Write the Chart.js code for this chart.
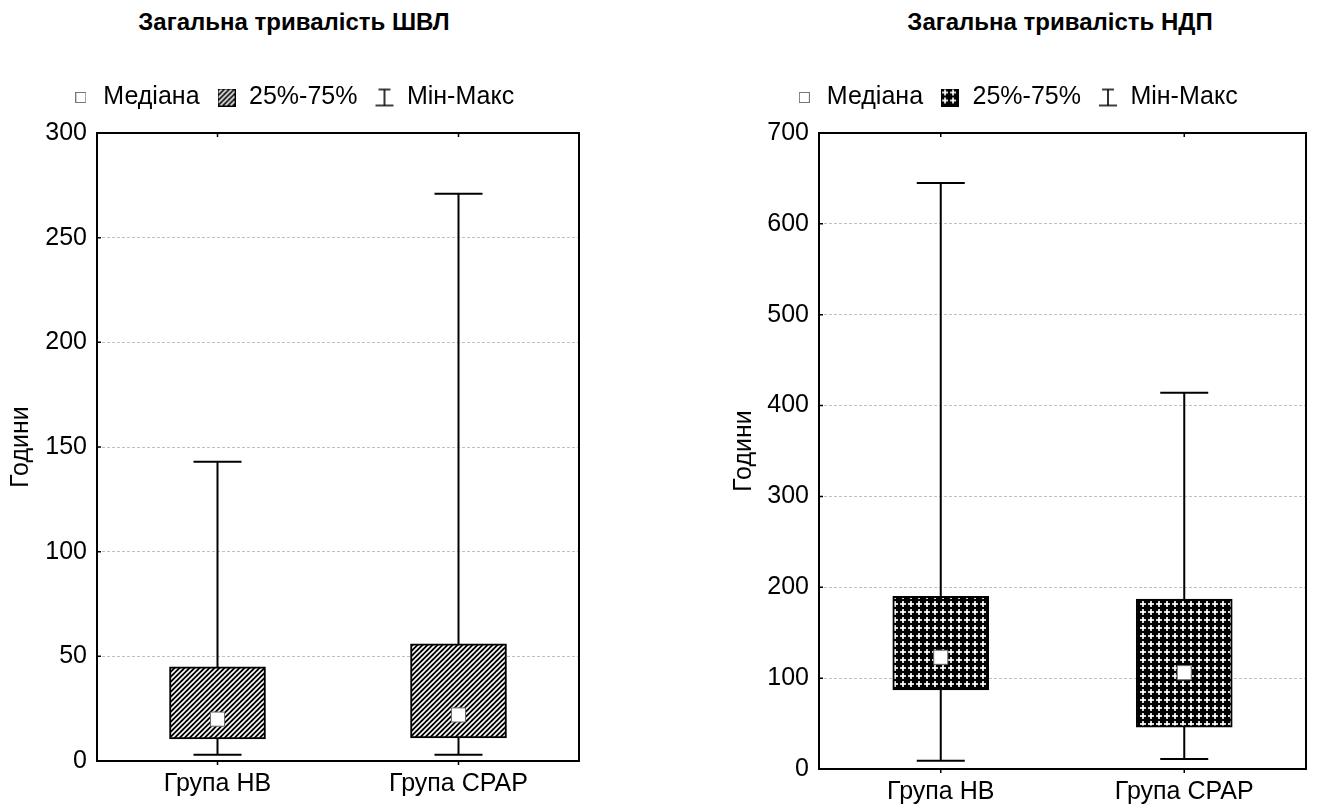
<!DOCTYPE html>
<html>
<head>
<meta charset="utf-8">
<script src="https://cdn.jsdelivr.net/npm/chart.js@4"></script>
<style>
  body { margin: 0; background: #fff; width: 1317px; height: 808px; position: relative; overflow: hidden;
         font-family: Arial, "Liberation Sans", sans-serif; }
  .title { position: absolute; top: 8px; font-weight: bold; font-size: 24px; line-height: 28px;
           transform: translateX(-50%); white-space: nowrap; color: #000; }
  #t1 { left: 294px; }
  #t2 { left: 1060px; }
  #c1 { position: absolute; left: 0; top: 0; }
  #c2 { position: absolute; left: 723px; top: 0; }
</style>
</head>
<body>
<div class="title" id="t1">Загальна тривалість ШВЛ</div>
<div class="title" id="t2">Загальна тривалість НДП</div>
<canvas id="c1" width="590" height="808"></canvas>
<canvas id="c2" width="594" height="808"></canvas>
<script>
const categories = ['Група НВ', 'Група CPAP'];
const legendTexts = ['Медіана', '25%-75%', 'Мін-Макс'];

// Загальна тривалість ШВЛ
const shvlMin = [3, 3];
const shvlQ1 = [10.5, 11];
const shvlMedian = [20, 22];
const shvlQ3 = [45, 56];
const shvlMax = [143, 271];
const shvlTicks = [0, 50, 100, 150, 200, 250, 300];

// Загальна тривалість НДП
const ndpMin = [9, 11];
const ndpQ1 = [87, 46];
const ndpMedian = [123, 106];
const ndpQ3 = [190, 187];
const ndpMax = [645, 414];
const ndpTicks = [0, 100, 200, 300, 400, 500, 600, 700];

Chart.defaults.font.family = 'Arial, "Liberation Sans", sans-serif';
Chart.defaults.color = '#000';

function tile(size, draw) {
    const c = document.createElement('canvas');
    c.width = size; c.height = size;
    draw(c.getContext('2d'), size);
    return c;
}

const stripeTile = tile(5, function (g, s) {
    g.fillStyle = '#000';
    g.fillRect(0, 0, s, s);
    g.strokeStyle = '#fff';
    g.lineWidth = 1.6;
    g.beginPath();
    g.moveTo(-1, s + 1); g.lineTo(s + 1, -1);
    g.moveTo(-1, 1); g.lineTo(1, -1);
    g.moveTo(s - 1, s + 1); g.lineTo(s + 1, s - 1);
    g.stroke();
});

const dotTile = tile(8, function (g, s) {
    g.fillStyle = '#000';
    g.fillRect(0, 0, s, s);
    g.fillStyle = '#d8d8d8';
    g.fillRect(3, 1, 2, 6);
    g.fillRect(1, 3, 6, 2);
    g.fillStyle = '#fff';
    g.fillRect(3, 3, 2, 2);
});

const tmp = document.createElement('canvas').getContext('2d');
const stripes = tmp.createPattern(stripeTile, 'repeat');
const dots = tmp.createPattern(dotTile, 'repeat');

// legend icons
const medianIcon = tile(11, function (g, s) {
    g.fillStyle = '#fff';
    g.fillRect(0, 0, s, s);
    g.strokeStyle = '#777';
    g.lineWidth = 1;
    g.strokeRect(0.5, 0.5, s - 1, s - 1);
});

function boxIcon(pattern) {
    return tile(18, function (g, s) {
        g.fillStyle = pattern;
        g.fillRect(0, 0, s, s);
        g.strokeStyle = '#000';
        g.lineWidth = 1;
        g.strokeRect(0.5, 0.5, s - 1, s - 1);
    });
}

const whiskerIcon = tile(20, function (g) {
    g.strokeStyle = '#000';
    g.lineWidth = 1.6;
    g.beginPath();
    g.moveTo(4, 2); g.lineTo(16, 2);
    g.moveTo(10, 2); g.lineTo(10, 18);
    g.moveTo(1, 18); g.lineTo(19, 18);
    g.stroke();
});

// whiskers under the boxes
const whiskers = {
    id: 'whiskers',
    beforeDatasetsDraw(chart) {
        const ds = chart.data.datasets.find(d => d.mins);
        const x = chart.scales.x, y = chart.scales.y;
        const ctx = chart.ctx;
        ctx.save();
        ctx.strokeStyle = '#000';
        ctx.lineWidth = 2;
        ds.mins.forEach((mn, i) => {
            const px = x.getPixelForValue(i);
            const y0 = y.getPixelForValue(mn);
            const y1 = y.getPixelForValue(ds.maxs[i]);
            ctx.beginPath();
            ctx.moveTo(px, y0); ctx.lineTo(px, y1);
            ctx.moveTo(px - 24, y0); ctx.lineTo(px + 24, y0);
            ctx.moveTo(px - 24, y1); ctx.lineTo(px + 24, y1);
            ctx.stroke();
        });
        ctx.restore();
    }
};

// frame and inner ticks
const frame = {
    id: 'frame',
    afterDraw(chart) {
        const {left, right, top, bottom} = chart.chartArea;
        const x = chart.scales.x, y = chart.scales.y;
        const ctx = chart.ctx;
        ctx.save();
        ctx.strokeStyle = '#000';
        ctx.lineWidth = 1.5;
        ctx.beginPath();
        y.ticks.forEach((t, i) => {
            const py = y.getPixelForTick(i);
            ctx.moveTo(left, py); ctx.lineTo(left + 4, py);
        });
        x.ticks.forEach((t, i) => {
            const px = x.getPixelForTick(i);
            ctx.moveTo(px, top); ctx.lineTo(px, top + 4);
            ctx.moveTo(px, bottom); ctx.lineTo(px, bottom + 4);
        });
        ctx.stroke();
        ctx.lineWidth = 2;
        ctx.strokeRect(left, top, right - left, bottom - top);
        ctx.restore();
    }
};

// fixed legend height so the plot starts where it should
const legendHeight = {
    id: 'legendHeight',
    afterInit(chart, args, opts) {
        const lg = chart.legend;
        const fit = lg.fit;
        lg.fit = function () {
            fit.call(this);
            this.height = opts.height;
        };
    }
};

function makeChart(id, cfg) {
    return new Chart(document.getElementById(id), {
        type: 'bar',
        data: {
            labels: categories,
            datasets: [
                {
                    type: 'line',
                    label: legendTexts[0],
                    data: cfg.median,
                    showLine: false,
                    pointStyle: 'rect',
                    pointRadius: 10,
                    pointHoverRadius: 10,
                    pointBackgroundColor: '#fff',
                    pointBorderColor: '#666',
                    pointBorderWidth: 1,
                    order: 0
                },
                {
                    label: legendTexts[1],
                    data: cfg.q1.map((v, i) => [v, cfg.q3[i]]),
                    mins: cfg.min,
                    maxs: cfg.max,
                    backgroundColor: cfg.pattern,
                    borderColor: '#000',
                    borderWidth: 2,
                    borderSkipped: false,
                    barThickness: 96,
                    order: 1
                }
            ]
        },
        options: {
            responsive: false,
            animation: false,
            events: [],
            layout: { padding: { top: 68, right: cfg.padRight, bottom: 0, left: 0 } },
            plugins: {
                tooltip: { enabled: false },
                title: { display: false },
                legendHeight: { height: 65 },
                legend: {
                    position: 'top',
                    labels: {
                        usePointStyle: true,
                        boxWidth: 20,
                        padding: 17,
                        color: '#000',
                        font: { size: 25 },
                        generateLabels: () => [
                            { text: legendTexts[0], pointStyle: medianIcon, lineWidth: 0, hidden: false, datasetIndex: 0 },
                            { text: legendTexts[1], pointStyle: boxIcon(cfg.pattern), lineWidth: 0, hidden: false, datasetIndex: 1 },
                            { text: legendTexts[2], pointStyle: whiskerIcon, lineWidth: 0, hidden: false, datasetIndex: 1 }
                        ]
                    }
                }
            },
            scales: {
                x: {
                    offset: true,
                    grid: { display: false, drawTicks: false },
                    border: { display: false },
                    ticks: { font: { size: 25 }, color: '#000', padding: 8 },
                    afterFit: s => { s.height = cfg.xHeight; }
                },
                y: {
                    min: cfg.ticks[0],
                    max: cfg.ticks[cfg.ticks.length - 1],
                    grid: { color: '#c0c0c0', lineWidth: 1, drawTicks: false },
                    border: { display: false, dash: [3, 2] },
                    ticks: { stepSize: cfg.ticks[1] - cfg.ticks[0], font: { size: 25 }, color: '#000', padding: 10 },
                    title: { display: true, text: 'Години', font: { size: 25 }, color: '#000', padding: { top: 6, bottom: 0 } },
                    afterFit: s => { s.width = cfg.yWidth; }
                }
            }
        },
        plugins: [whiskers, frame, legendHeight]
    });
}

makeChart('c1', {
    min: shvlMin, q1: shvlQ1, median: shvlMedian, q3: shvlQ3, max: shvlMax,
    ticks: shvlTicks, pattern: stripes, padRight: 5, xHeight: 47, yWidth: 97
});

makeChart('c2', {
    min: ndpMin, q1: ndpQ1, median: ndpMedian, q3: ndpQ3, max: ndpMax,
    ticks: ndpTicks, pattern: dots, padRight: 8, xHeight: 39, yWidth: 96
});
</script>
</body>
</html>
